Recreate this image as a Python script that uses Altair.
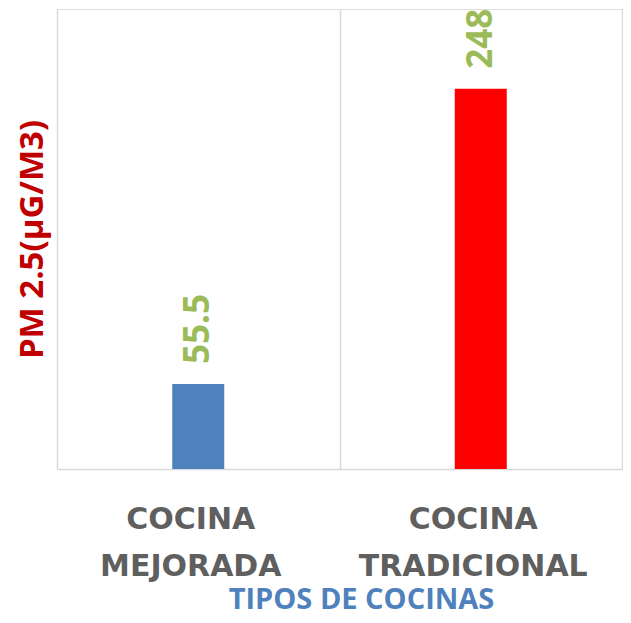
import altair as alt
import pandas as pd

categories = ["COCINA MEJORADA", "COCINA TRADICIONAL"]
values = [55.5, 248]
colors = ["#4f81bd", "#ff0000"]
label_texts = ["55.5", "248"]

df = pd.DataFrame({"cat": categories, "val": values, "color": colors, "txt": label_texts})

x_enc = alt.X(
    "cat:N",
    sort=categories,
    scale=alt.Scale(paddingInner=0, paddingOuter=0),
    axis=alt.Axis(
        title="TIPOS DE COCINAS",
        grid=True,
        tickBand="extent",
        gridColor="#d9d9d9",
        gridWidth=1.5,
        domain=True,
        domainColor="#d9d9d9",
        domainWidth=1.5,
        ticks=False,
        tickSize=0,
        labelAngle=0,
        labelFont="DejaVu Sans",
        labelFontWeight="bold",
        labelFontSize=30,
        labelColor="#5f5f5f",
        labelLineHeight=47,
        labelPadding=35,
        labelOffset=-8,
        labelLimit=0,
        labelOverlap=False,
        labelExpr="split(datum.label, ' ')",
        titleFont="Open Sans",
        titleFontSize=29,
        titleFontWeight="bold",
        titleColor="#4f81bd",
        titleBaseline="alphabetic",
        titleAlign="center",
        titleX=304,
        titleY=139,
    ),
)

y_enc = alt.Y(
    "val:Q",
    scale=alt.Scale(domain=[0, 300], nice=False),
    axis=alt.Axis(
        title="PM 2.5(µG/M3)",
        labels=False,
        ticks=False,
        domain=False,
        grid=False,
        titleFont="Open Sans",
        titleFontSize=33,
        titleFontWeight="bold",
        titleColor="#c00000",
        titleBaseline="alphabetic",
        titleX=-15,
    ),
)

bars = alt.Chart(df).mark_bar(size=52).encode(
    x=x_enc,
    y=y_enc,
    color=alt.Color("color:N", scale=None),
)

text = alt.Chart(df).mark_text(
    angle=270,
    align="left",
    baseline="middle",
    dx=20,
    font="Open Sans",
    fontWeight="bold",
    fontSize=35,
    color="#9bbb59",
).encode(
    x=alt.X("cat:N", sort=categories),
    y=alt.Y("val:Q"),
    text="txt:N",
)

chart = (
    alt.layer(bars, text)
    .properties(
        width=565,
        height=460,
        autosize=alt.AutoSizeParams(type="none"),
        padding={"left": 49, "top": 1, "right": 1, "bottom": 146},
    )
    .configure_view(stroke="transparent")
    .configure(background="white")
)

chart.save("out.html", embed_options={"renderer": "svg", "actions": False})
